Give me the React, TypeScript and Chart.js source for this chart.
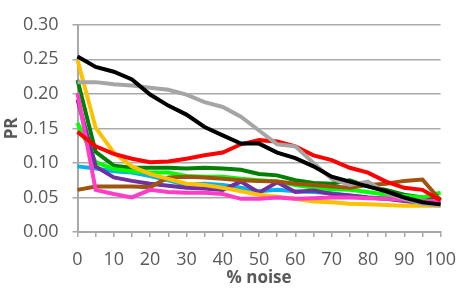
import React, { useEffect, useRef } from "react";
import { Chart, registerables } from "chart.js";

Chart.register(...registerables);

const xLabels = ["0","5","10","15","20","25","30","35","40","45","50","55","60","65","70","75","80","85","90","95","100"];

const black = [0.254, 0.239, 0.232, 0.221, 0.199, 0.183, 0.170, 0.152, 0.140, 0.128, 0.128, 0.115, 0.107, 0.095, 0.080, 0.073, 0.066, 0.059, 0.050, 0.043, 0.040];
const gray = [0.217, 0.217, 0.214, 0.212, 0.209, 0.206, 0.199, 0.188, 0.181, 0.167, 0.147, 0.127, 0.124, 0.100, 0.077, 0.068, 0.073, 0.057, 0.048, 0.041, 0.038];
const red = [0.145, 0.124, 0.113, 0.106, 0.101, 0.102, 0.106, 0.111, 0.115, 0.127, 0.133, 0.131, 0.124, 0.111, 0.104, 0.093, 0.086, 0.073, 0.064, 0.061, 0.046];
const darkGreen = [0.220, 0.116, 0.096, 0.093, 0.093, 0.093, 0.092, 0.093, 0.092, 0.090, 0.084, 0.082, 0.075, 0.071, 0.070, 0.075, 0.066, 0.061, 0.054, 0.050, 0.048];
const brightGreen = [0.158, 0.101, 0.091, 0.088, 0.086, 0.086, 0.081, 0.080, 0.080, 0.077, 0.075, 0.073, 0.068, 0.064, 0.062, 0.061, 0.058, 0.054, 0.052, 0.050, 0.057];
const orange = [0.249, 0.151, 0.115, 0.095, 0.084, 0.077, 0.070, 0.068, 0.064, 0.059, 0.054, 0.051, 0.048, 0.044, 0.043, 0.041, 0.040, 0.039, 0.038, 0.038, 0.038];
const lightBlue = [0.095, 0.092, 0.088, 0.086, 0.081, 0.075, 0.068, 0.070, 0.068, 0.064, 0.059, 0.061, 0.059, 0.058, 0.056, 0.053, 0.050, 0.048, 0.046, 0.045, 0.044];
const purple = [0.192, 0.095, 0.079, 0.074, 0.070, 0.067, 0.064, 0.063, 0.061, 0.073, 0.057, 0.072, 0.058, 0.060, 0.055, 0.053, 0.050, 0.048, 0.045, 0.042, 0.040];
const pink = [0.201, 0.061, 0.055, 0.050, 0.061, 0.058, 0.057, 0.057, 0.055, 0.048, 0.048, 0.050, 0.048, 0.049, 0.050, 0.050, 0.049, 0.048, 0.047, 0.045, 0.045];
const brown = [0.061, 0.066, 0.066, 0.066, 0.065, 0.079, 0.080, 0.079, 0.077, 0.075, 0.074, 0.073, 0.070, 0.068, 0.066, 0.064, 0.068, 0.070, 0.074, 0.076, 0.046];

const seriesList = [
  { name: "black", data: black, color: "#000000" },
  { name: "gray", data: gray, color: "#A5A5A5" },
  { name: "red", data: red, color: "#FF0000" },
  { name: "pink", data: pink, color: "#FF3DC6" },
  { name: "orange", data: orange, color: "#FFC000" },
  { name: "brown", data: brown, color: "#A0520F" },
  { name: "purple", data: purple, color: "#7030A0" },
  { name: "brightGreen", data: brightGreen, color: "#00FF00" },
  { name: "darkGreen", data: darkGreen, color: "#008000" },
  { name: "lightBlue", data: lightBlue, color: "#00B0F0" },
];

const FONT = "'Open Sans', sans-serif";
const TXT = "#595959";
const GRID = "#A9A9A9";

export default function App() {
  const ref = useRef<HTMLCanvasElement | null>(null);
  useEffect(() => {
    if (!ref.current) return;
    const chart = new Chart(ref.current, {
      type: "line",
      data: {
        labels: xLabels,
        datasets: seriesList.map((s) => ({
          label: s.name,
          data: s.data,
          borderColor: s.color,
          backgroundColor: s.color,
          borderWidth: 4,
          pointRadius: 0,
          tension: 0,
          fill: false,
        })),
      },
      options: {
        animation: false,
        responsive: false,
        layout: { padding: { left: 0, right: 19, top: 10, bottom: 0 } },
        plugins: { legend: { display: false }, tooltip: { enabled: false } },
        scales: {
          x: {
            type: "category",
            offset: false,
            grid: { display: true, drawOnChartArea: false, drawTicks: true, tickLength: 5, color: GRID, lineWidth: 1.5, offset: false },
            border: { display: true, color: GRID, width: 2 },
            ticks: {
              autoSkip: false,
              maxRotation: 0,
              padding: 12,
              color: TXT,
              font: { family: FONT, size: 18 },
              callback: (_v: any, i: number) => (i % 2 === 0 ? xLabels[i] : ""),
            },
            title: { display: true, text: "% noise", color: TXT, font: { family: FONT, size: 17, weight: "bold" }, padding: { top: 0, bottom: 0 } },
            afterFit: (s: any) => { s.height = 56; },
          },
          y: {
            min: 0,
            max: 0.3,
            grid: { display: true, drawOnChartArea: true, drawTicks: true, tickLength: 5, color: GRID, lineWidth: 1.5 },
            border: { display: true, color: GRID, width: 2 },
            ticks: {
              stepSize: 0.05,
              padding: 14,
              color: TXT,
              font: { family: FONT, size: 18 },
              callback: (v: any) => Number(v).toFixed(2),
            },
            title: { display: true, text: "PR", color: TXT, font: { family: FONT, size: 17, weight: "bold" }, padding: { top: 2, bottom: 0 } },
            afterFit: (s: any) => { s.width = 77.5; },
          },
        },
      },
    });
    return () => chart.destroy();
  }, []);
  return (
    <div style={{ position: "fixed", left: 0, top: 0, width: 468, height: 288, background: "#fff" }}>
      <canvas ref={ref} width={468} height={288} />
    </div>
  );
}
